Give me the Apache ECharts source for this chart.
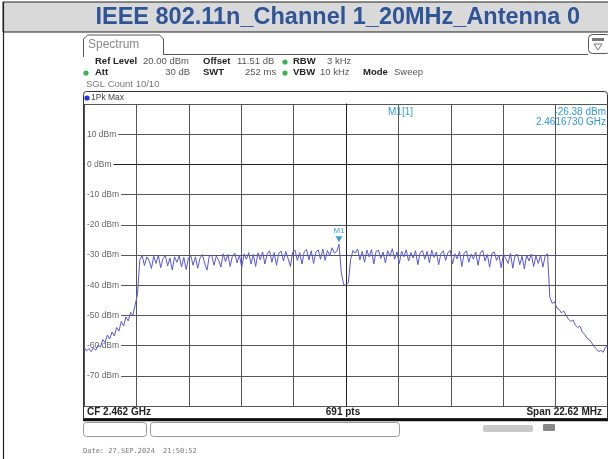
<!DOCTYPE html>
<html><head><meta charset="utf-8">
<script src="https://cdn.jsdelivr.net/npm/echarts@6/dist/echarts.min.js"></script>
<style>html,body{margin:0;padding:0;background:#fff}#c{width:608px;height:459px}</style>
</head><body><div id="c"></div>
<script>
// Frequency offsets from CF 2.462 GHz (MHz)
const freqOffsetsMHz = [
-11.3,-11.2,-11.1,-11.0,-10.9,-10.8,-10.7,-10.6,-10.5,-10.4,-10.3,-10.2,-10.1,-10.0,-9.9,-9.8,-9.7,-9.6,-9.5,-9.4,
-9.3,-9.2,-9.1,-9.0,-8.9,-8.8,-8.7,-8.6,-8.5,-8.4,-8.3,-8.2,-8.1,-8.0,-7.9,-7.8,-7.7,-7.6,-7.5,-7.4,
-7.3,-7.2,-7.1,-7.0,-6.9,-6.8,-6.7,-6.6,-6.5,-6.4,-6.3,-6.2,-6.1,-6.0,-5.9,-5.8,-5.7,-5.6,-5.5,-5.4,
-5.3,-5.2,-5.1,-5.0,-4.9,-4.8,-4.7,-4.6,-4.5,-4.4,-4.3,-4.2,-4.1,-4.0,-3.9,-3.8,-3.7,-3.6,-3.5,-3.4,
-3.3,-3.2,-3.1,-3.0,-2.9,-2.8,-2.7,-2.6,-2.5,-2.4,-2.3,-2.2,-2.1,-2.0,-1.9,-1.8,-1.7,-1.6,-1.5,-1.4,
-1.3,-1.2,-1.1,-1.0,-0.9,-0.8,-0.7,-0.6,-0.5,-0.4,-0.3,-0.2,-0.1,0.0,0.1,0.2,0.3,0.4,0.5,0.6,
0.7,0.8,0.9,1.0,1.1,1.2,1.3,1.4,1.5,1.6,1.7,1.8,1.9,2.0,2.1,2.2,2.3,2.4,2.5,2.6,
2.7,2.8,2.9,3.0,3.1,3.2,3.3,3.4,3.5,3.6,3.7,3.8,3.9,4.0,4.1,4.2,4.3,4.4,4.5,4.6,
4.7,4.8,4.9,5.0,5.1,5.2,5.3,5.4,5.5,5.6,5.7,5.8,5.9,6.0,6.1,6.2,6.3,6.4,6.5,6.6,
6.7,6.8,6.9,7.0,7.1,7.2,7.3,7.4,7.5,7.6,7.7,7.8,7.9,8.0,8.1,8.2,8.3,8.4,8.5,8.6,
8.7,8.8,8.9,9.0,9.1,9.2,9.3,9.4,9.5,9.6,9.7,9.8,9.9,10.0,10.1,10.2,10.3,10.4,10.5,10.6,
10.7,10.8,10.9,11.0,11.1,11.2,11.3];

// Trace 1Pk Max levels (dBm)
const levelsDBm = [
-60.5,-61.8,-61.0,-62.0,-60.8,-61.5,-59.8,-60.5,-58.0,-59.0,
-56.5,-57.8,-55.5,-56.8,-54.0,-55.2,-52.0,-53.5,-50.5,-51.8,
-49.0,-50.0,-46.5,-43.0,
-31.5,
-30.2,-33.5,-30.6,-31.8,-34.5,-30.4,-32.8,-30.0,-34.2,-31.2,
-30.2,-33.6,-31.0,-35.0,-30.6,-32.4,-30.3,-34.0,-30.8,-34.8,
-31.0,-30.2,-33.4,-30.6,-34.4,-31.0,-29.8,-32.8,-35.0,-30.4,
-30.0,-33.4,-30.4,-31.6,-34.0,-29.6,-32.2,-29.8,-33.8,-30.2,
-29.4,-32.6,-30.0,-34.2,-29.6,-31.4,-29.2,-33.0,-29.8,-33.8,
-29.3,-31.6,-29.0,-33.0,-29.6,-28.6,-32.4,-29.2,-33.4,-29.4,
-28.7,-32.0,-28.8,-31.2,-33.8,-29.0,-28.4,-31.8,-29.2,-33.0,
-28.8,-28.2,-31.6,-28.6,-32.8,-29.0,-28.3,-31.4,-28.0,-31.8,
-28.5,-30.2,-27.6,-29.4,
-28.8,-26.4,-36.0,-39.8,-40.0,-39.2,-31.5,-28.5,
-29.4,-28.0,-31.6,-28.8,-32.4,-28.4,-30.6,-28.2,-33.0,-28.8,
-28.4,-31.2,-29.0,-32.6,-28.6,-30.4,-27.9,-31.4,-29.0,-32.8,
-28.7,-30.6,-28.3,-32.0,-29.2,-31.0,-28.6,-33.2,-29.3,-28.5,
-31.4,-28.8,-32.6,-28.4,-30.8,-29.0,-33.2,-29.4,-28.7,-31.8,
-29.2,-28.5,-33.0,-29.6,-31.3,-28.8,-33.8,-29.4,-28.6,-32.4,
-29.7,-31.4,-29.0,-33.4,-29.3,-28.4,-32.0,-29.8,-34.0,-29.5,
-29.0,-31.8,-30.0,-34.2,-29.6,-31.2,-32.8,-29.4,-34.4,-30.1,
-29.8,-33.2,-30.4,-34.6,-30.0,-32.0,-29.7,-33.8,-30.3,-32.8,
-30.0,-34.0,-30.2,-29.6,
-44.0,-46.0,-45.5,-47.5,-48.0,-49.2,-48.5,-50.0,-51.2,-52.0,
-51.5,-53.2,-54.0,-53.6,-55.5,-56.2,-57.5,-58.0,-59.0,-60.2,
-61.0,-62.0,-61.6,-62.2,-60.5,-60.0];

const yTickLabels = [10,0,-10,-20,-30,-40,-50,-60,-70];
const marker = {name:'M1', freqOffset:-0.3, level:-26.4};

const chart = echarts.init(document.getElementById('c'), null, {renderer:'canvas'});
const F = 'Liberation Sans, Arial, sans-serif';
function t(x,y,text,o){return {type:'text',x:x,y:y,z:10,style:Object.assign({text:text,fill:'#333',font:'9.5px '+F,textVerticalAlign:'middle'},o||{})};}
function dot(x,y,c){return {type:'circle',z:10,shape:{cx:x,cy:y,r:2.6},style:{fill:c}};}
const B = 'bold 9.5px '+F;

const graphics = [
  // header band
  {type:'rect',shape:{x:3,y:2,width:610,height:30},style:{fill:'#d9d9d9',stroke:'#222',lineWidth:1}},
  {type:'line',shape:{x1:3.5,y1:2,x2:3.5,y2:459},style:{stroke:'#222',lineWidth:1.2}},
  t(580,18,'IEEE 802.11n_Channel 1_20MHz_Antenna 0',{fill:'#2f5597',font:'bold 23.5px '+F,textAlign:'right'}),
  // tab
  {type:'polyline',shape:{points:[[83.5,57],[83.5,39],[87.5,35],[159.5,35],[163.5,39],[163.5,54.5],[588,54.5]]},style:{fill:'none',stroke:'#555',lineWidth:1}},
  {type:'rect',shape:{x:588.5,y:34.5,width:22,height:19,r:4},style:{fill:'#fff',stroke:'#555',lineWidth:1}},
  {type:'rect',shape:{x:592,y:38,width:12,height:3},style:{fill:'#777'}},
  {type:'polygon',shape:{points:[[594,44],[602,44],[598,50]]},style:{fill:'#fff',stroke:'#777',lineWidth:1}},
  t(88,45,'Spectrum',{fill:'#888',font:'12px '+F}),
  // settings rows
  t(95,61.5,'Ref Level',{font:B,fill:'#222'}),
  t(143,61.5,'20.00 dBm',{fill:'#555'}),
  t(203,61.5,'Offset',{font:B,fill:'#222'}),
  t(237,61.5,'11.51 dB',{fill:'#555'}),
  dot(285,62,'#3cb44b'),
  t(293,61.5,'RBW',{font:B,fill:'#222'}),
  t(327,61.5,'3 kHz',{fill:'#555'}),
  dot(86,73,'#3cb44b'),
  t(95,72.5,'Att',{font:B,fill:'#222'}),
  t(190,72.5,'30 dB',{fill:'#555',textAlign:'right'}),
  t(203,72.5,'SWT',{font:B,fill:'#222'}),
  t(245,72.5,'252 ms',{fill:'#555'}),
  dot(285,73,'#3cb44b'),
  t(293,72.5,'VBW',{font:B,fill:'#222'}),
  t(320,72.5,'10 kHz',{fill:'#555'}),
  t(363,72.5,'Mode',{font:B,fill:'#222'}),
  t(394,72.5,'Sweep',{fill:'#555'}),
  t(86,84.5,'SGL Count 10/10',{fill:'#777'}),
  // trace box header
  {type:'rect',shape:{x:83.5,y:91.5,width:524,height:328,r:[3,3,0,0]},style:{fill:'none',stroke:'#333',lineWidth:1}},
  dot(87,98,'#2233dd'),
  t(91,98,'1Pk Max',{fill:'#444',font:'8.5px '+F}),
  {type:'line',shape:{x1:83,y1:104.5,x2:608,y2:104.5},style:{stroke:'#333',lineWidth:1}},
  // marker info
  t(388,112,'M1[1]',{fill:'#3399dd',font:'10px '+F}),
  t(606,112,'-26.38 dBm',{fill:'#3399dd',font:'10px '+F,textAlign:'right'}),
  t(606,122.5,'2.4616730 GHz',{fill:'#3399dd',font:'10px '+F,textAlign:'right'}),
  // bottom bar
  {type:'rect',shape:{x:83.5,y:406.5,width:524,height:12},style:{fill:'#fff',stroke:'#333',lineWidth:1}},
  {type:'line',shape:{x1:83,y1:420,x2:608,y2:420},style:{stroke:'#111',lineWidth:2.5}},
  t(87,412.5,'CF 2.462 GHz',{font:'bold 10px '+F,fill:'#222'}),
  t(343,412.5,'691 pts',{font:'bold 10px '+F,fill:'#222',textAlign:'center'}),
  t(602,412.5,'Span 22.62 MHz',{font:'bold 10px '+F,fill:'#222',textAlign:'right'}),
  // lower boxes
  {type:'rect',shape:{x:83.5,y:422.5,width:63,height:14,r:3},style:{fill:'#fff',stroke:'#999',lineWidth:1}},
  {type:'rect',shape:{x:150.5,y:422.5,width:249,height:14,r:3},style:{fill:'#fff',stroke:'#999',lineWidth:1}},
  {type:'rect',shape:{x:483,y:425,width:50,height:7,r:2},style:{fill:'#c8c8c8'}},
  {type:'rect',shape:{x:543,y:424,width:12,height:7,r:1},style:{fill:'#888'}},
  t(83,451,'Date: 27.SEP.2024  21:50:52',{fill:'#777',font:'7px DejaVu Sans Mono, monospace'})
];

const option = {
  animation:false,
  backgroundColor:'#fff',
  grid:{left:84,top:104,width:524.5,height:302,containLabel:false},
  xAxis:{type:'value',min:-11.31,max:11.31,interval:2.262,
    axisLine:{show:true,lineStyle:{color:'#222'}},axisTick:{show:false},axisLabel:{show:false},
    splitLine:{show:true,lineStyle:{color:'#555',width:1}}},
  yAxis:{type:'value',min:-80,max:20,interval:10,
    axisLine:{show:true,lineStyle:{color:'#222'}},axisTick:{show:false},
    axisLabel:{inside:true,margin:1,color:'#666',fontFamily:F,fontSize:8.5,backgroundColor:'#fff',padding:[0,2,0,2],
      formatter:function(v){return yTickLabels.indexOf(v)>=0 ? v+' dBm' : '';}},
    splitLine:{show:true,lineStyle:{color:'#555',width:1}}},
  series:[{
    type:'line',name:'1Pk Max',showSymbol:false,symbol:'none',
    data:freqOffsetsMHz.map((f,i)=>[f,levelsDBm[i]]),
    lineStyle:{color:'#5858d8',width:1},
    z:5,
    markPoint:{symbol:'triangle',symbolRotate:180,symbolSize:[7,6],symbolOffset:[0,-5],
      itemStyle:{color:'#3a9fd8'},
      label:{show:true,position:'top',distance:1,formatter:marker.name,color:'#3a9fd8',fontSize:8,fontFamily:F},
      data:[{coord:[marker.freqOffset,marker.level]}]}
  }],
  graphic:graphics
};
chart.setOption(option);
</script></body></html>
